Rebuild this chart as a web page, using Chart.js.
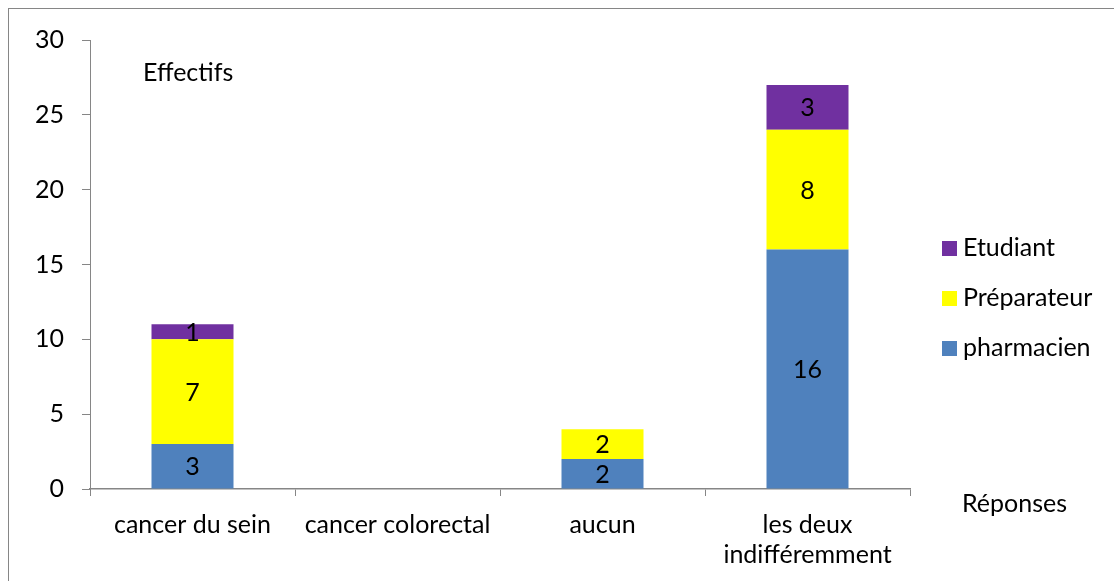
<!DOCTYPE html>
<html>
<head>
<meta charset="utf-8">
<script src="https://cdn.jsdelivr.net/npm/chart.js@4"></script>
<style>
  html, body { margin: 0; padding: 0; background: #fff; }
  #wrap { position: relative; width: 1114px; height: 581px; }
  #frame { position: absolute; left: 8px; top: 8px; right: -2px; bottom: -2px; border-left: 1px solid #868686; border-top: 1px solid #868686; }
  canvas { position: absolute; left: 0; top: 0; }
</style>
</head>
<body>
<div id="wrap">
  <div id="frame"></div>
  <canvas id="chart" width="1114" height="581"></canvas>
</div>
<script>
const FONT = 'Lato, "Liberation Sans", sans-serif';
const FONT_SIZE = 25;

const categories = ['cancer du sein', 'cancer colorectal', 'aucun', ['les deux', 'indifféremment']];
const pharmacien = [3, 0, 2, 16];
const preparateur = [7, 0, 2, 8];
const etudiant = [1, 0, 0, 3];
const yTicks = [0, 5, 10, 15, 20, 25, 30];

const colors = { pharmacien: '#4F81BD', preparateur: '#FFFF00', etudiant: '#7030A0' };

// value labels centred in each segment, zero segments skipped
const segmentLabels = {
    id: 'segmentLabels',
    afterDatasetsDraw(chart) {
        const ctx = chart.ctx;
        ctx.save();
        ctx.font = FONT_SIZE + 'px ' + FONT;
        ctx.fillStyle = '#000';
        ctx.textAlign = 'center';
        ctx.textBaseline = 'middle';
        chart.data.datasets.forEach((ds, i) => {
            chart.getDatasetMeta(i).data.forEach((bar, j) => {
                const v = ds.data[j];
                if (!v) return;
                ctx.fillText(String(v), bar.x, (bar.y + bar.base) / 2 + 1);
            });
        });
        ctx.restore();
    }
};

// axis titles and legend drawn where the original puts them
const extras = {
    id: 'extras',
    afterDraw(chart) {
        const ctx = chart.ctx;
        const area = chart.chartArea;
        ctx.save();
        ctx.font = FONT_SIZE + 'px ' + FONT;
        ctx.fillStyle = '#000';
        ctx.textBaseline = 'middle';
        ctx.textAlign = 'left';
        ctx.fillText('Effectifs', area.left + 53, 73);
        ctx.fillText('Réponses', area.right + 52, 504);

        const items = chart.data.datasets.slice().reverse();
        items.forEach((ds, i) => {
            const y = 248 + i * 50;
            ctx.fillStyle = ds.backgroundColor;
            ctx.fillRect(942, y - 7, 15, 15);
            ctx.fillStyle = '#000';
            ctx.fillText(ds.label, 963, y);
        });
        ctx.restore();
    }
};

new Chart(document.getElementById('chart'), {
    type: 'bar',
    data: {
        labels: categories,
        datasets: [
            { label: 'pharmacien', data: pharmacien, backgroundColor: colors.pharmacien },
            { label: 'Préparateur', data: preparateur, backgroundColor: colors.preparateur },
            { label: 'Etudiant', data: etudiant, backgroundColor: colors.etudiant },
        ]
    },
    options: {
        responsive: false,
        animation: false,
        devicePixelRatio: 1,
        layout: { padding: { top: 40, right: 204, left: 0, bottom: 0 } },
        plugins: { legend: { display: false }, tooltip: { enabled: false } },
        datasets: { bar: { categoryPercentage: 1, barPercentage: 0.4 } },
        scales: {
            x: {
                stacked: true,
                afterFit: s => { s.height = 92; },
                border: { color: '#868686', width: 1.5 },
                grid: { display: true, drawOnChartArea: false, offset: true, tickLength: 7, color: '#868686' },
                ticks: { color: '#000', font: { family: FONT, size: FONT_SIZE, lineHeight: 1.2 }, padding: 14, maxRotation: 0, autoSkip: false }
            },
            y: {
                stacked: true,
                min: 0,
                max: 30,
                afterFit: s => { s.width = 90; },
                afterBuildTicks: s => { s.ticks = yTicks.map(v => ({ value: v })); },
                border: { color: '#868686', width: 1 },
                grid: { display: true, drawOnChartArea: false, tickLength: 8, color: '#868686' },
                ticks: { color: '#000', font: { family: FONT, size: FONT_SIZE }, padding: 18 }
            }
        }
    },
    plugins: [segmentLabels, extras]
});
</script>
</body>
</html>
